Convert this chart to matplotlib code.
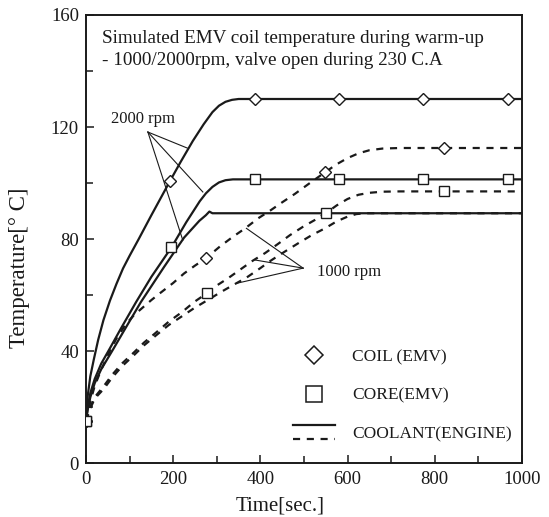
import numpy as np
import matplotlib
matplotlib.use("Agg")
import matplotlib.pyplot as plt
from matplotlib.lines import Line2D
from matplotlib.legend_handler import HandlerBase

# ---------------- data ----------------
# 2000 rpm (solid)
coil_2000_t = [0, 4, 10, 18, 28, 40, 55, 70, 85, 100, 121, 150, 193, 217, 245, 270, 290, 305, 320, 335, 350, 370, 387, 580, 774, 968, 1000]
coil_2000_T = [15, 24, 31, 37, 44, 51, 58, 64, 69.5, 74, 80, 88.5, 100.8, 107.5, 115, 121, 125.3, 127.6, 129, 129.7, 130, 130, 130, 130, 130, 130, 130]
coil_2000_mk = [0, 193, 387, 580, 774, 968]

core_2000_t = [0, 4, 10, 20, 35, 55, 80, 115, 150, 196, 230, 261, 275, 290, 305, 320, 337, 388, 580, 773, 967, 1000]
core_2000_T = [15, 20, 25, 30, 35.5, 41, 48, 57.5, 66.5, 77, 86, 93.5, 96.3, 98.6, 100.2, 101, 101.3, 101.3, 101.3, 101.3, 101.3, 101.3]
core_2000_mk = [0, 196, 388, 580, 773, 967]

coolant_2000_t = [0, 4, 10, 20, 35, 60, 90, 126, 179, 225, 260, 275, 283, 290, 1000]
coolant_2000_T = [15, 19, 23.5, 28.5, 33.5, 40, 48, 57.5, 70, 80.5, 86.5, 88.5, 89.8, 89.2, 89.2]

# 1000 rpm (dashed)
coil_1000_t = [0, 10, 20, 34, 50, 70, 91, 110, 130, 150, 171, 200, 225, 250, 275, 307, 337, 365, 395, 422, 449, 479, 510, 548, 575, 600, 625, 650, 680, 720, 822, 1000]
coil_1000_T = [15, 22, 27.5, 33, 38.5, 44.5, 49.5, 52.8, 55.5, 58.2, 60.8, 64.3, 67.7, 70.5, 73.1, 77.3, 80.8, 83.8, 87.4, 90.1, 93, 96.1, 99.6, 103.8, 106.7, 108.9, 110.6, 111.7, 112.3, 112.5, 112.5, 112.5]
coil_1000_mk = [0, 275, 548, 822]

core_1000_t = [0, 10, 20, 41, 60, 83, 110, 133, 160, 190, 221, 248, 277, 296, 326, 353, 383, 411, 440, 468, 498, 525, 550, 575, 600, 625, 650, 680, 720, 822, 1000]
core_1000_T = [15, 20, 23.5, 27.5, 31.5, 35.6, 39.5, 43, 46.5, 50.5, 54, 57.5, 60.6, 63, 66, 69, 72.3, 75, 78.2, 81.4, 84.4, 86.8, 89.2, 92, 94.3, 95.8, 96.5, 96.9, 97, 97, 97]
core_1000_mk = [0, 277, 550, 822]

coolant_1000_t = [0, 10, 20, 41, 60, 83, 110, 133, 160, 190, 221, 248, 277, 311, 338, 369, 399, 426, 456, 487, 518, 548, 575, 600, 620, 640, 1000]
coolant_1000_T = [15, 19.5, 23, 26.5, 30.5, 34.6, 38.5, 42, 45.5, 49.3, 52.5, 55.3, 58, 61.2, 63.6, 66.3, 69.5, 72.5, 75.5, 78.5, 81.4, 83.8, 86.3, 88, 88.9, 89.2, 89.2]

x_ticks = [0, 200, 400, 600, 800, 1000]
y_ticks = [0, 40, 80, 120, 160]

title_lines = ["Simulated EMV coil temperature during warm-up",
               "- 1000/2000rpm, valve open during 230 C.A"]

# leader-line annotations: (label position, pointer origin, targets)
lbl_2000_pos = (58, 123)
lbl_2000_origin = (142, 118.2)
lbl_2000_targets = [(232, 112.5), (268, 96.8), (222, 79.6)]
lbl_1000_pos = (530, 68.2)
lbl_1000_origin = (498, 69.6)
lbl_1000_targets = [(368, 83.8), (388, 72.5), (346, 64.2)]

# ---------------- style ----------------
plt.rcParams['font.family'] = ['Liberation Serif', 'DejaVu Serif']
INK = '#1a1a1a'
LW = 1.6
DASH = (0, (3.2, 3.0))

fig = plt.figure(figsize=(5.49, 5.17), dpi=100)
ax = fig.add_axes([0.1566, 0.1044, 0.7942, 0.8666])


def idx(t, marks):
    return [i for i, v in enumerate(t) if v in marks]


mk_kw = dict(markerfacecolor='white', markeredgecolor=INK, markeredgewidth=1.0)

ax.plot(coil_2000_t, coil_2000_T, color=INK, lw=LW, marker='D', ms=6.5,
        markevery=idx(coil_2000_t, coil_2000_mk), **mk_kw, zorder=3)
ax.plot(core_2000_t, core_2000_T, color=INK, lw=LW, marker='s', ms=7,
        markevery=idx(core_2000_t, core_2000_mk), **mk_kw, zorder=3)
ax.plot(coolant_2000_t, coolant_2000_T, color=INK, lw=LW, zorder=2)

ax.plot(coil_1000_t, coil_1000_T, color=INK, lw=LW, ls=DASH, marker='D', ms=6.5,
        markevery=idx(coil_1000_t, coil_1000_mk), **mk_kw, zorder=3)
ax.plot(core_1000_t, core_1000_T, color=INK, lw=LW, ls=DASH, marker='s', ms=7,
        markevery=idx(core_1000_t, core_1000_mk), **mk_kw, zorder=3)
ax.plot(coolant_1000_t, coolant_1000_T, color=INK, lw=LW, ls=DASH, zorder=2)

# leader lines + labels
for tx, ty in lbl_2000_targets:
    ax.plot([lbl_2000_origin[0], tx], [lbl_2000_origin[1], ty], color=INK, lw=0.8, zorder=1)
ax.text(*lbl_2000_pos, "2000 rpm", fontsize=12, color=INK, va='center', ha='left')
for tx, ty in lbl_1000_targets:
    ax.plot([lbl_1000_origin[0], tx], [lbl_1000_origin[1], ty], color=INK, lw=0.8, zorder=1)
ax.text(*lbl_1000_pos, "1000 rpm", fontsize=12, color=INK, va='center', ha='left')

# title inside the axes
ax.text(0.037, 0.938, title_lines[0], transform=ax.transAxes, fontsize=13.8, color=INK, va='baseline')
ax.text(0.037, 0.889, title_lines[1], transform=ax.transAxes, fontsize=13.8, color=INK, va='baseline')

# axes
ax.set_xlim(0, 1000)
ax.set_ylim(0, 160)
ax.set_xticks(x_ticks)
ax.set_xticks(np.arange(0, 1001, 100), minor=True)
ax.set_yticks(y_ticks)
ax.set_yticks(np.arange(0, 161, 20), minor=True)
ax.tick_params(which='both', direction='in', colors=INK, labelsize=13.5, width=1.1)
ax.tick_params(which='major', length=6)
ax.tick_params(which='minor', length=5)
ax.tick_params(axis='x', pad=6)
ax.tick_params(axis='y', pad=5)
for s in ax.spines.values():
    s.set_linewidth(1.4)
    s.set_color(INK)

ax.set_xlabel("Time[sec.]", fontsize=15, color=INK)
ax.set_ylabel("Temperature[° C]", fontsize=16.5, color=INK)
ax.xaxis.set_label_coords(0.445, -0.075)
ax.yaxis.set_label_coords(-0.128, 0.435)


# legend
class CoolantKey:
    pass


class HandlerTwoLines(HandlerBase):
    def create_artists(self, legend, orig_handle, xdescent, ydescent, width, height, fontsize, trans):
        yc = -ydescent + height / 2
        off = 5.0
        l1 = Line2D([-xdescent, -xdescent + width], [yc + off, yc + off], color=INK, lw=LW, transform=trans)
        l2 = Line2D([-xdescent, -xdescent + width], [yc - off, yc - off], color=INK, lw=LW, ls=DASH, transform=trans)
        return [l1, l2]


h_coil = Line2D([], [], ls='none', marker='D', ms=9, markerfacecolor='white', markeredgecolor=INK, markeredgewidth=1.1)
h_core = Line2D([], [], ls='none', marker='s', ms=12, markerfacecolor='white', markeredgecolor=INK, markeredgewidth=1.1)
leg = ax.legend([h_coil, h_core, CoolantKey()], ["COIL (EMV)", "CORE(EMV)", "COOLANT(ENGINE)"],
                handler_map={CoolantKey: HandlerTwoLines()},
                loc='upper left', bbox_to_anchor=(0.475, 0.255), frameon=False,
                fontsize=12.5, labelspacing=1.3, handlelength=2.4, handletextpad=1.0,
                borderpad=0, borderaxespad=0)
for t in leg.get_texts():
    t.set_color(INK)

fig.savefig("out.png", dpi=100)
